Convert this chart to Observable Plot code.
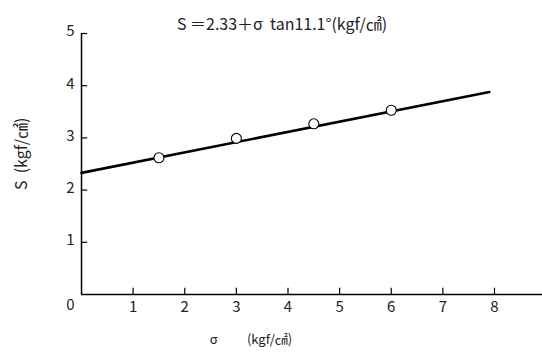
<!DOCTYPE html>
<html>
<head>
<meta charset="utf-8">
<script src="https://cdn.jsdelivr.net/npm/d3@7"></script>
<script src="https://cdn.jsdelivr.net/npm/@observablehq/plot@0.6"></script>
<style>
  html, body { margin: 0; padding: 0; background: #fff; }
  svg { font-family: "Noto Sans CJK JP", "Noto Sans", sans-serif; }
</style>
</head>
<body>
<div id="chart"></div>
<script>
const titleText = ["S ＝2.33＋σ  tan11.1°(kgf/㎠)"];
const yLabelText = ["S  (kgf/㎠)"];
const xLabelText = ["σ          (kgf/㎠)"];
const xTicks = [1, 2, 3, 4, 5, 6, 7, 8];
const yTicks = [1, 2, 3, 4, 5];
const originLabel = ["0"];
const pointSigma = [1.5, 3.0, 4.5, 6.0];
const pointS = [2.62, 2.99, 3.27, 3.53];
const lineSigma = [0, 7.9];
const lineS = [2.33, 3.88];

const points = pointSigma.map((x, i) => ({x, y: pointS[i]}));
const fitLine = lineSigma.map((x, i) => ({x, y: lineS[i]}));

const chart = Plot.plot({
  width: 542,
  height: 353,
  marginLeft: 81,
  marginRight: 0,
  marginTop: 33,
  marginBottom: 59,
  style: {fontFamily: "Noto Sans CJK JP", background: "#fff"},
  x: {type: "linear", domain: [0, 8.93], axis: null},
  y: {type: "linear", domain: [0, 5], axis: null},
  marks: [
    // axis lines
    Plot.ruleY([0], {x1: 0, x2: 8.93, stroke: "#000", strokeWidth: 1.5}),
    Plot.ruleX([0], {y1: 0, y2: 5, stroke: "#000", strokeWidth: 1.5}),
    // inward ticks
    Plot.ruleX(xTicks, {x: d => d, y1: 0, y2: 0.12, stroke: "#000", strokeWidth: 1.2}),
    Plot.ruleY(yTicks, {y: d => d, x1: 0, x2: 0.12, stroke: "#000", strokeWidth: 1.2}),
    // tick labels
    Plot.text(xTicks, {x: d => d, y: 0, text: d => String(d), dy: 13, fontSize: 15, fill: "#222"}),
    Plot.text(yTicks, {x: 0, y: d => d, text: d => String(d), dx: -11, dy: -2, fontSize: 15, fill: "#222"}),
    Plot.text(originLabel, {x: 0, y: 0, text: d => d, dx: -11, dy: 11, fontSize: 15, fill: "#222"}),
    // fit line
    Plot.line(fitLine, {x: "x", y: "y", stroke: "#000", strokeWidth: 2.6}),
    // measured points
    Plot.dot(points, {x: "x", y: "y", r: 5, fill: "#fff", stroke: "#000", strokeWidth: 1.1}),
    // title and axis labels
    Plot.text(titleText, {frameAnchor: "top", text: d => d, dx: -30, dy: -15, fontSize: 16, fill: "#222"}),
    Plot.text(xLabelText, {frameAnchor: "bottom", text: d => d, dx: -61, dy: 49, fontSize: 13, fill: "#222"}),
    Plot.text(yLabelText, {frameAnchor: "left", text: d => d, dx: -60, dy: 26, rotate: -90, fontSize: 16, fill: "#222"})
  ]
});
document.getElementById("chart").appendChild(chart);
</script>
</body>
</html>
